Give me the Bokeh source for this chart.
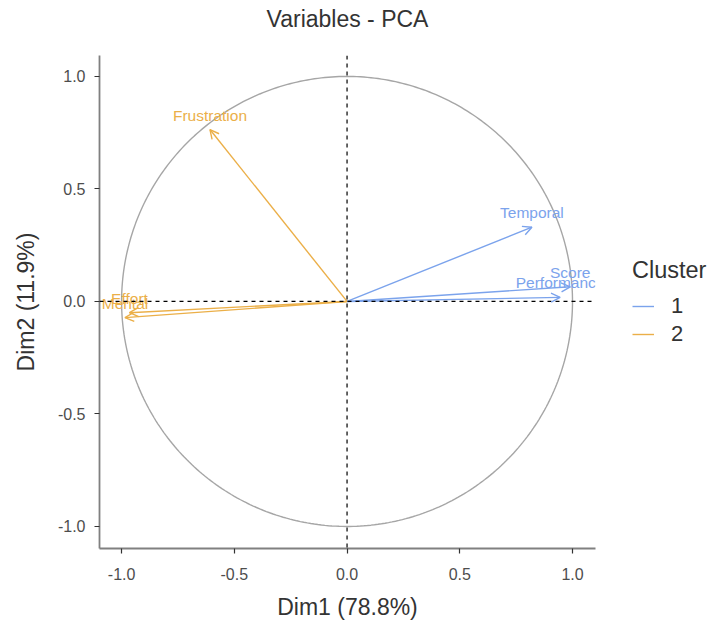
import numpy as np
from bokeh.plotting import figure
from bokeh.models import (ColumnDataSource, Arrow, OpenHead, Span, FixedTicker,
                          Legend, LegendItem, Range1d, Title)
from bokeh.core.properties import value
from bokeh.embed import file_html
from bokeh.resources import INLINE

# ---- data ----
variables = ["Frustration", "Temporal", "Score", "Performance", "Effort", "Mental"]
dim1 = [-0.608, 0.82, 0.99, 0.945, -0.965, -0.985]
dim2 = [0.764, 0.33, 0.065, 0.018, -0.05, -0.072]
cluster = ["2", "1", "1", "1", "2", "2"]
cluster_colors = {"1": "#7BA3EC", "2": "#EBAF48"}
ticks = [-1.0, -0.5, 0.0, 0.5, 1.0]
tick_labels = ["-1.0", "-0.5", "0.0", "0.5", "1.0"]
title_text = "Variables - PCA"
xlab = "Dim1 (78.8%)"
ylab = "Dim2 (11.9%)"

FONT = "Liberation Sans"

p = figure(frame_width=496, frame_height=493, output_backend="svg",
           toolbar_location=None, x_range=Range1d(-1.098, 1.102),
           y_range=Range1d(-1.098, 1.093), min_border_left=99,
           min_border_top=55, min_border_right=113, min_border_bottom=70,
           title=None)

# spacer (nearest the frame), then the visible title above it
p.add_layout(Title(text=" ", text_font_size="1px", standoff=19), "above")
p.add_layout(Title(text=title_text, align="center", text_font=FONT,
                   text_font_size="23px", text_font_style="normal",
                   text_color="#333333", standoff=3), "above")

p.xgrid.visible = False
p.ygrid.visible = False
p.outline_line_color = None

for ax in (p.xaxis[0], p.yaxis[0]):
    ax.ticker = FixedTicker(ticks=ticks)
    ax.major_label_overrides = {t: l for t, l in zip(ticks, tick_labels)}
    ax.axis_line_color = "#808080"
    ax.axis_line_width = 1.8
    ax.major_tick_line_color = "#333333"
    ax.major_tick_line_width = 1.2
    ax.major_tick_out = 5
    ax.major_tick_in = 0
    ax.minor_tick_line_color = None
    ax.major_label_text_font = FONT
    ax.major_label_text_font_size = "16px"
    ax.major_label_text_color = "#4d4d4d"
    ax.axis_label_text_font = FONT
    ax.axis_label_text_font_size = "23px"
    ax.axis_label_text_font_style = "normal"
    ax.axis_label_text_color = "#333333"
p.xaxis.axis_label = xlab
p.yaxis.axis_label = ylab
p.xaxis.major_label_standoff = 14
p.yaxis.major_label_standoff = 9
p.xaxis.axis_label_standoff = 11
p.yaxis.axis_label_standoff = 16

# unit circle
theta = np.linspace(0, 2 * np.pi, 400)
p.line(np.cos(theta), np.sin(theta), line_color="#a6a6a6", line_width=1.4)

# dashed reference lines
p.add_layout(Span(location=0, dimension="width", line_color="black",
                  line_dash="4 4", line_width=1.2))
p.add_layout(Span(location=0, dimension="height", line_color="black",
                  line_dash="4 4", line_width=1.2))

items = []
for c in ["1", "2"]:
    idx = [i for i, k in enumerate(cluster) if k == c]
    src = ColumnDataSource(dict(
        x0=[0.0] * len(idx), y0=[0.0] * len(idx),
        x1=[dim1[i] for i in idx], y1=[dim2[i] for i in idx],
        name=[variables[i] for i in idx]))
    col = cluster_colors[c]
    r = p.segment("x0", "y0", "x1", "y1", source=src, line_color=col,
                  line_width=1.4)
    p.add_layout(Arrow(end=OpenHead(size=9, line_color=col, line_width=1.4),
                       x_start="x0", y_start="y0", x_end="x1", y_end="y1",
                       source=src, line_alpha=0))
    p.text("x1", "y1", text="name", source=src, text_color=col,
           text_font=value(FONT), text_font_size="15.5px", text_align="center",
           text_baseline="bottom", y_offset=-6)
    items.append(LegendItem(label=c, renderers=[r]))

legend = Legend(items=items, location=(37, 201), title="Cluster",
                title_text_font=FONT, title_text_font_size="23.5px",
                title_text_font_style="normal",
                title_text_color="#333333", label_text_font=FONT,
                label_text_font_size="22px", label_text_color="#333333",
                glyph_width=22, glyph_height=20, label_height=20,
                label_standoff=17, spacing=2, padding=2, margin=0,
                border_line_color=None, background_fill_alpha=0,
                title_standoff=9)
p.add_layout(legend, "right")

open("out.html", "w").write(file_html(p, INLINE))
